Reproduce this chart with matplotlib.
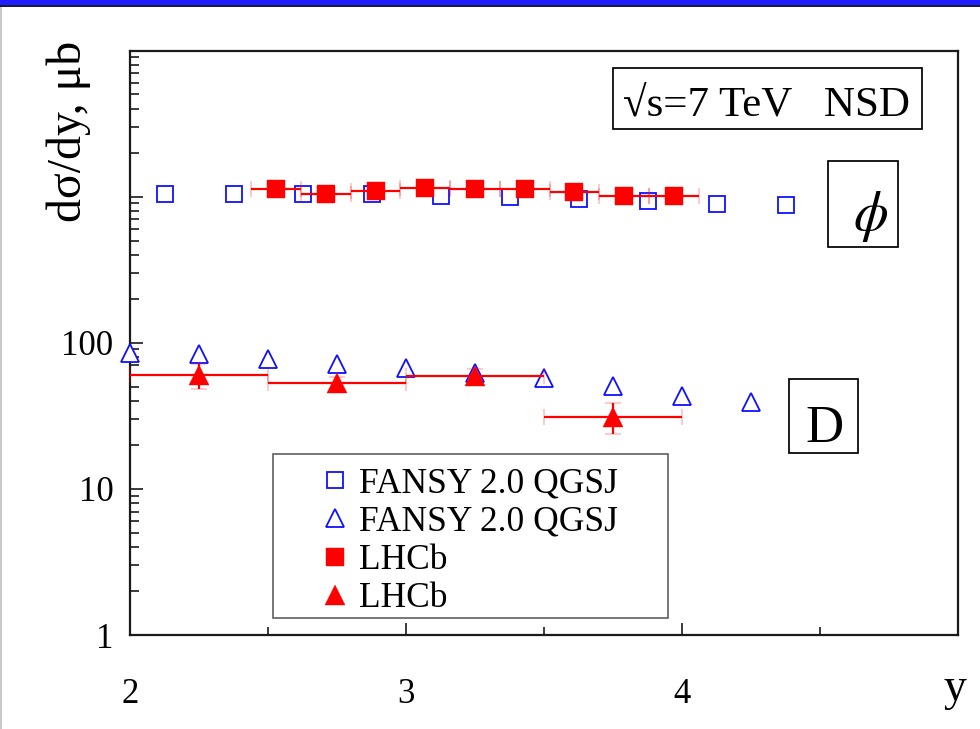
import matplotlib
matplotlib.use("Agg")
import matplotlib.pyplot as plt
from matplotlib.patches import Rectangle
from matplotlib.ticker import FixedLocator, FixedFormatter, NullFormatter

plt.rcParams['font.family'] = ['Liberation Serif', 'DejaVu Serif']
plt.rcParams['mathtext.fontset'] = 'stix'

# ---- data -------------------------------------------------------------
# phi meson: FANSY 2.0 QGSJ model points
phi_model_y = [2.125, 2.375, 2.625, 2.875, 3.125, 3.375, 3.625, 3.875, 4.125, 4.375]
phi_model_val = [1042, 1042, 1039, 1042, 1014, 987, 963, 937, 897, 873]

# phi meson: LHCb measurement (bin centres, half bin width)
phi_lhcb_y = [2.53, 2.71, 2.89, 3.07, 3.25, 3.43, 3.61, 3.79, 3.97]
phi_lhcb_val = [1127, 1043, 1097, 1150, 1127, 1127, 1068, 1017, 1017]
phi_lhcb_xerr = 0.09

# D meson: FANSY 2.0 QGSJ model points
d_model_y = [2.0, 2.25, 2.5, 2.75, 3.0, 3.25, 3.5, 3.75, 4.0, 4.25]
d_model_val = [85.4, 83.4, 77.0, 71.5, 66.8, 62.0, 57.1, 50.6, 43.2, 39.3]

# D meson: LHCb measurement
d_lhcb_y = [2.25, 2.75, 3.25, 3.75]
d_lhcb_val = [60.1, 53.3, 59.2, 31.2]
d_lhcb_yerr = [12.0, 5.0, 7.0, 7.4]
d_lhcb_xerr = 0.25

x_ticks = [2, 3, 4]
x_tick_labels = ['2', '3', '4']
y_ticks = [1, 10, 100, 1000, 10000]
y_tick_labels = ['1', '10', '100', '', '']

legend_labels = ['FANSY 2.0 QGSJ', 'FANSY 2.0 QGSJ', 'LHCb', 'LHCb']

# ---- figure -----------------------------------------------------------
W, H = 980, 729
fig = plt.figure(figsize=(W / 100, H / 100), dpi=100)


def fx(px):
    return px / W


def fy(py):
    return 1 - py / H


ax = fig.add_axes([fx(130), fy(635), fx(958) - fx(130), fy(50.5) - fy(635)])

BLUE = '#1010ff'
RED = '#ff0000'

sq_model, = ax.plot(phi_model_y, phi_model_val, ls='none', marker='s', ms=11.5,
                    mfc='white', mec=BLUE, mew=1.3, zorder=3, clip_on=False)
tri_model, = ax.plot(d_model_y, d_model_val, ls='none', marker='^', ms=12.5,
                     mfc='white', mec=BLUE, mew=1.3, zorder=3, clip_on=False)

eb_phi = ax.errorbar(phi_lhcb_y, phi_lhcb_val, xerr=phi_lhcb_xerr, ls='none',
                     marker='s', ms=13.5, mfc=RED, mec=RED, mew=0.3,
                     ecolor=RED, elinewidth=1.6, capsize=6, capthick=1.6, zorder=4)
eb_d = ax.errorbar(d_lhcb_y, d_lhcb_val, xerr=d_lhcb_xerr, yerr=d_lhcb_yerr, ls='none',
                   marker='^', ms=14.5, mfc=RED, mec=RED, mew=0.3,
                   ecolor=RED, elinewidth=1.6, capsize=6, capthick=1.6, zorder=4)
for eb in (eb_phi, eb_d):
    eb[0].set_clip_on(False)
    for c in eb[1] + eb[2]:
        c.set_clip_on(False)

ax.set_xlim(2, 5)
ax.set_yscale('log')
ax.set_ylim(1, 1e4)

ax.xaxis.set_major_locator(FixedLocator(x_ticks))
ax.xaxis.set_major_formatter(FixedFormatter(x_tick_labels))
ax.xaxis.set_minor_locator(FixedLocator([2.5, 3.5, 4.5]))
ax.yaxis.set_major_locator(FixedLocator(y_ticks))
ax.yaxis.set_major_formatter(FixedFormatter(y_tick_labels))
minor_y = [m * 10 ** e for e in range(0, 4) for m in range(2, 10)]
ax.yaxis.set_minor_locator(FixedLocator(minor_y))
ax.yaxis.set_minor_formatter(NullFormatter())

ax.tick_params(which='both', direction='in', top=False, right=False,
               width=1.2, color='#1a1a1a')
ax.tick_params(axis='x', which='major', length=8.6, pad=31, labelsize=25)
ax.tick_params(axis='x', which='minor', length=6)
ax.tick_params(axis='y', which='major', length=9, pad=12, labelsize=25)
ax.tick_params(axis='y', which='minor', length=6.6)
for s in ax.spines.values():
    s.set_linewidth(1.6)
    s.set_color('#1a1a1a')

# ---- labels and annotation boxes ---------------------------------------
fig.text(fx(81), fy(131), 'd\u03c3/dy, \u03bcb', rotation=90, rotation_mode='anchor',
         ha='center', va='baseline', fontsize=34.5)
fig.text(fx(955), fy(700), 'y', ha='center', va='baseline', fontsize=33)


def fig_box(x0, y0, x1, y1, ec='black', lw=1.25, fc='none', z=5):
    fig.add_artist(Rectangle((fx(x0), fy(y1)), fx(x1) - fx(x0), fy(y0) - fy(y1),
                             transform=fig.transFigure, fill=(fc != 'none'),
                             facecolor=fc, edgecolor=ec, linewidth=lw, zorder=z))


fig_box(612.7, 68.3, 921.7, 129.3)
fig.text(fx(623), fy(115), '\u221as=7 TeV   NSD', ha='left', va='baseline', fontsize=31)

fig_box(828.3, 160.7, 897.7, 247.3)
fig.text(fx(871), fy(217), r'$\phi$', ha='center', va='center', fontsize=40)

fig_box(789.3, 379.3, 857.7, 453.3)
fig.text(fx(824), fy(442.3), 'D', ha='center', va='baseline', fontsize=38)

# legend frame and entries
fig_box(272.7, 454, 668, 617.7, ec='#606060', lw=1.2, fc='white', z=4)
leg = fig.legend([sq_model, tri_model, eb_phi[0], eb_d[0]], legend_labels,
                 loc='upper left', bbox_to_anchor=(fx(318.7), fy(467.5)),
                 frameon=False, fontsize=25.5, numpoints=1, handlelength=0.9,
                 handletextpad=0.25, labelspacing=0.15, borderpad=0, borderaxespad=0)
leg.set_zorder(6)

# page decoration: top bar and left edge
fig.add_artist(Rectangle((0, fy(5)), 1, fy(0) - fy(5), transform=fig.transFigure,
                         facecolor='#1e1eff', edgecolor='none'))
fig.add_artist(Rectangle((0, fy(6.5)), 1, fy(5) - fy(6.5), transform=fig.transFigure,
                         facecolor='#1a1a40', edgecolor='none'))
fig.add_artist(Rectangle((0, 0), fx(1.5), fy(6.5), transform=fig.transFigure,
                         facecolor='#c8c8c8', edgecolor='none'))

fig.savefig('out.png', dpi=100)
